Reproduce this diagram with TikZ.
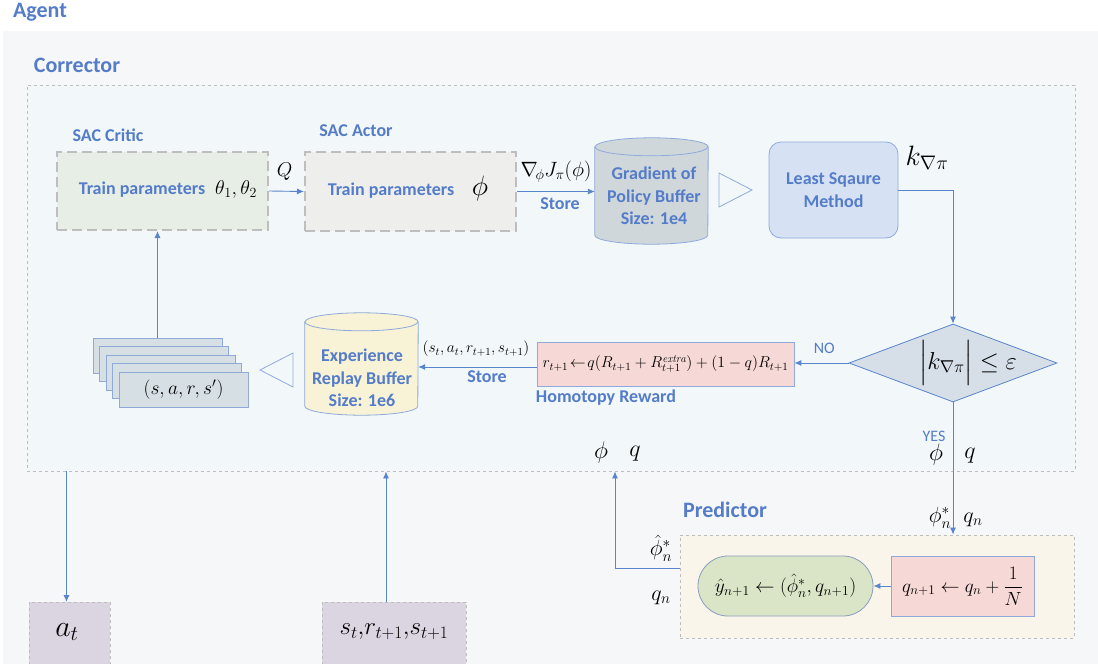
\RequirePackage{fix-cm}
\documentclass[tikz,border=0pt]{standalone}
\usepackage{amsmath}
\usepackage{fontspec}
\setsansfont{Carlito}
\usetikzlibrary{arrows.meta,shapes.geometric,positioning}

\definecolor{txtblue}{RGB}{84,124,200}
\definecolor{lineblue}{RGB}{90,132,204}
\definecolor{agentbg}{RGB}{246,247,248}
\definecolor{corrbg}{RGB}{242,247,249}
\definecolor{criticbg}{RGB}{231,238,230}
\definecolor{actorbg}{RGB}{238,239,236}
\definecolor{gradbg}{RGB}{207,215,219}
\definecolor{lsmbg}{RGB}{214,226,243}
\definecolor{diabg}{RGB}{214,223,232}
\definecolor{homobg}{RGB}{246,216,214}
\definecolor{replaybg}{RGB}{248,242,214}
\definecolor{cardbg}{RGB}{214,223,227}
\definecolor{predbg}{RGB}{249,245,234}
\definecolor{pillbg}{RGB}{217,229,198}
\definecolor{envbg}{RGB}{218,213,225}
\definecolor{edgeblue}{RGB}{143,169,218}
\definecolor{dashgrey}{RGB}{190,190,190}

\begin{document}
\begin{tikzpicture}[x=1pt, y=-1pt, every node/.style={inner sep=0pt},
  ttl/.style={font=\sffamily\bfseries\fontsize{22}{26}\selectfont, text=txtblue},
  tlabel/.style={font=\sffamily\bfseries\fontsize{18}{22.5}\selectfont, text=txtblue, align=center},
  small/.style={font=\sffamily\fontsize{16}{18}\selectfont, text=txtblue},
  mth/.style={font=\fontsize{20}{22}\selectfont},
  outerbox/.style={draw=dashgrey, dashed, line width=0.9pt},
  sacbox/.style={draw=dashgrey, line width=2pt, dash pattern=on 10pt off 5pt},
  arr/.style={draw=lineblue, line width=0.9pt, -{Latex[length=7pt,width=6pt]}},
  hollow/.style={draw=edgeblue, line width=0.8pt, fill=corrbg}]

\useasboundingbox (0,0) rectangle (1098,664);
\fill[agentbg] (3,31) rectangle (1098,664);
\node[ttl] (agent) at (40,12) {Agent};

% corrector
\node[ttl] (corrlbl) at (77,65) {Corrector};
\node[outerbox, fill=corrbg, minimum width=1048pt, minimum height=386pt] (corr) at (551,278) {};

\node[tlabel] (criticlbl) at (108,135) {SAC Critic};
\node[sacbox, fill=criticbg, minimum width=211pt, minimum height=78pt] (critic) at (162.5,191) {};
\node[tlabel] at (142,190) {Train parameters};
\node[mth] at (236,189) {$\theta_1,\theta_2$};

\node[tlabel] (actorlbl) at (356,131) {SAC Actor};
\node[sacbox, fill=actorbg, minimum width=211pt, minimum height=79pt] (actor) at (410.5,191.5) {};
\node[tlabel] at (391,191) {Train parameters};
\node[font=\fontsize{28}{30}\selectfont] at (480,188) {$\phi$};

% buffers
\node[minimum width=113pt, minimum height=106pt] (grad) at (651.5,191) {};
\node[minimum width=113pt, minimum height=102pt] (replay) at (361.5,364) {};
\foreach \b/\c in {grad/gradbg, replay/replaybg}{
  \draw[edgeblue, line width=0.8pt, fill=\c] ([yshift=-9pt]\b.north west) -- ([yshift=9pt]\b.south west)
    arc[start angle=180, end angle=360, x radius=56.5pt, y radius=9pt]
    -- ([yshift=-9pt]\b.north east)
    arc[start angle=0, end angle=180, x radius=56.5pt, y radius=9pt] -- cycle;
  \draw[edgeblue, line width=0.8pt] ([yshift=-9pt]\b.north west)
    arc[start angle=180, end angle=360, x radius=56.5pt, y radius=9pt];
}
\node[tlabel] at (654,196) {Gradient of\\Policy Buffer\\Size: 1e4};
\node[tlabel] at (362,378) {Experience\\Replay Buffer\\Size: 1e6};

\draw[arr] (critic.east) -- (actor.west) node[pos=0.45, above=10pt, mth] {$Q$};
\draw[arr] (actor.east) -- (actor.east -| grad.west);
\node[font=\fontsize{20.7}{22}\selectfont] at (556,172) {$\nabla_{\!\phi} J_{\pi}(\phi)$};
\node[tlabel] at (560,204) {Store};

\draw[hollow] (719,173) -- (752,190) -- (719,207) -- cycle;
\node[tlabel, draw=edgeblue, line width=0.8pt, fill=lsmbg, rounded corners=12pt,
  minimum width=129pt, minimum height=96pt] (lsm) at (833.5,190) {Least Sqaure\\Method};
\node[font=\fontsize{28}{30}\selectfont] at (927,158) {$k_{\nabla\pi}$};

\node[diamond, draw=lineblue, line width=0.8pt, fill=diabg, aspect=2.67,
  minimum width=208pt, minimum height=78pt] (dia) at (953,363) {};
\node[font=\fontsize{24.5}{26}\selectfont] at (968,363) {$\Big|k_{\nabla\pi}\Big|\le\varepsilon$};
\draw[arr] (lsm.east) -| (dia.north);

\node[draw=edgeblue, line width=0.8pt, fill=homobg, minimum width=257pt, minimum height=44pt,
  font=\fontsize{15.8}{18}\selectfont] (homo) at (665.5,364)
  {$r_{t+1}\!\leftarrow\! q(R_{t+1}+R_{t+1}^{\mathit{extra}})+(1-q)R_{t+1}$};
\node[tlabel] at (606,398) {Homotopy Reward};
\draw[arr] (dia.west) -- (dia.west -| homo.east) node[pos=0.45, above=9pt, small] {NO};

\draw[arr] ([yshift=-3pt]homo.west) -- ([yshift=-3pt]homo.west -| replay.east);
\node[font=\fontsize{15.5}{18}\selectfont] at (476,349) {$(s_t,a_t,r_{t+1},s_{t+1})$};
\node[tlabel] at (487,377) {Store};

\draw[hollow] (293,353) -- (260,370) -- (293,387) -- cycle;
\foreach \i in {0,...,4}
  \node[draw=edgeblue, line width=0.8pt, fill=cardbg, minimum width=129pt, minimum height=35pt]
    (card\i) at (157.5+6.5*\i,355.5+8.5*\i) {};
\node[font=\fontsize{19.5}{22}\selectfont] (cards) at (card4) {$(s,a,r,s')$};
\draw[arr] (card0.north) -- (card0.north |- critic.south);

\node[small] at (934,436) {YES};
\node[font=\fontsize{24}{26}\selectfont] at (936,454) {$\phi$};
\node[font=\fontsize{24}{26}\selectfont] at (970,456) {$q$};
\node[font=\fontsize{24}{26}\selectfont] at (601,452) {$\phi$};
\node[font=\fontsize{24}{26}\selectfont] at (635,454) {$q$};

% predictor
\node[ttl] (predlbl) at (725,510) {Predictor};
\node[outerbox, fill=predbg, minimum width=394pt, minimum height=103pt] (pred) at (877,586.5) {};
\node[draw=edgeblue!70!gray, line width=0.8pt, fill=pillbg, rounded corners=30pt,
  minimum width=175pt, minimum height=60pt, font=\fontsize{19.5}{22}\selectfont] (pill) at (785.5,586)
  {$\hat{y}_{n+1}\leftarrow(\hat{\phi}_n^{*},q_{n+1})$};
\node[draw=edgeblue, line width=0.8pt, fill=homobg, minimum width=143pt, minimum height=60pt,
  font=\fontsize{19}{21}\selectfont] (upd) at (962.5,586) {$q_{n+1}\leftarrow q_n+\dfrac{1}{N}$};
\draw[arr] (upd.west) -- (pill.east);

\draw[arr] (dia.south) -- (dia.south |- pred.north);
\node[font=\fontsize{22}{24}\selectfont] at (940,518) {$\phi_n^{*}$};
\node[font=\fontsize{22}{24}\selectfont] at (973,520) {$q_n$};

\coordinate (fb) at (615,568);
\draw[arr] (pred.west |- fb) -- (fb) -- (fb |- corr.south);
\node[font=\fontsize{22}{24}\selectfont] at (661,548) {$\hat{\phi}_n^{*}$};
\node[font=\fontsize{22}{24}\selectfont] at (661,598) {$q_n$};

% environment
\node[outerbox, fill=envbg, minimum width=81pt, minimum height=72pt, anchor=north] (act) at (69.5,602) {};
\node[font=\fontsize{30}{32}\selectfont] at (67,632) {$a_t$};
\node[outerbox, fill=envbg, minimum width=144pt, minimum height=72pt, anchor=north] (obs) at (394,602) {};
\node[font=\fontsize{25}{28}\selectfont] at (394,632) {$s_t{,}r_{t+1}{,}s_{t+1}$};
\draw[arr] ([xshift=-3pt]corr.south -| act.north) -- ([xshift=-3pt]act.north);
\draw[arr] ([xshift=-8pt]obs.north) -- ([xshift=-8pt]obs.north |- corr.south);
\end{tikzpicture}
\end{document}
